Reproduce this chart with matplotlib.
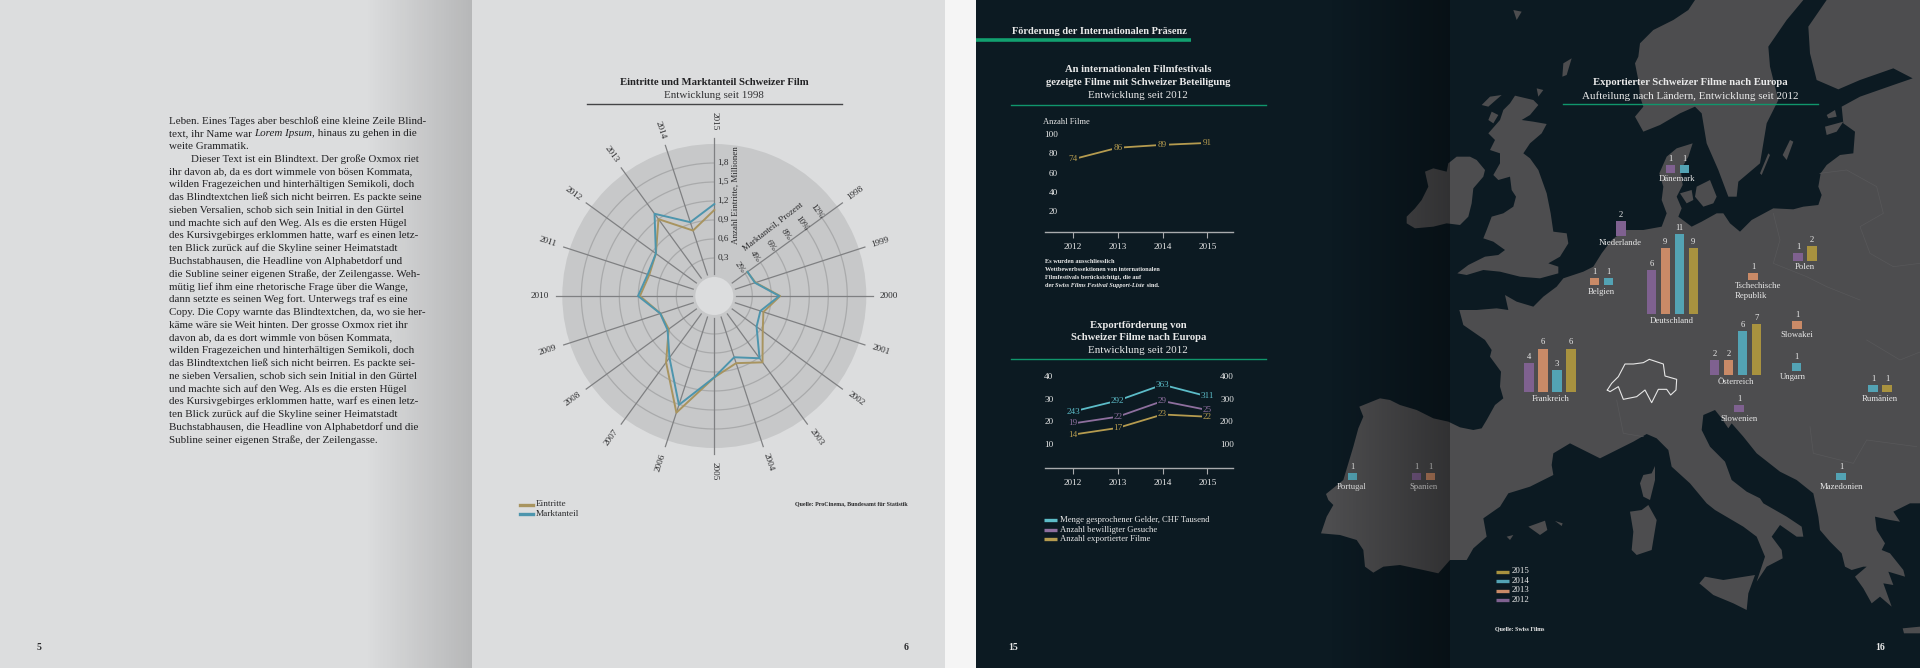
import numpy as np
import matplotlib
matplotlib.use('Agg')
import matplotlib.pyplot as plt

plt.rcParams['font.family'] = ['Liberation Serif', 'DejaVu Serif']

# radar data
years = list(range(1998, 2016))
eintritte = [0.345, 0.385, 0.74, 0.515, 0.645, 0.995, 0.815, 0.985, 1.637, 0.995, 0.59, 0.594, 0.874, 0.78, 0.84, 1.2, 0.787, 1.058]
marktanteil = [2.33, 2.5, 4.84, 3.1, 3.5, 6.1, 4.78, 6.56, 10.05, 6.03, 4.08, 3.97, 6.03, 5.37, 5.6, 8.7, 6.17, 7.68]
eintritte_ticks = [0.3, 0.6, 0.9, 1.2, 1.5, 1.8]
marktanteil_ticks = [2, 4, 6, 8, 10, 12]

# line charts
line_years = [2012, 2013, 2014, 2015]
filme = [74, 86, 89, 91]
filme_ticks = [20, 40, 60, 80, 100]
gelder = [243, 292, 363, 311]
gesuche = [19, 22, 29, 25]
exportiert = [14, 17, 23, 22]
left_ticks = [10, 20, 30, 40]
right_ticks = [100, 200, 300, 400]

# map bars
countries = ['Dänemark', 'Niederlande', 'Belgien', 'Deutschland', 'Polen', 'Tschechische\nRepublik', 'Slowakei',
             'Österreich', 'Ungarn', 'Frankreich', 'Slowenien', 'Rumänien', 'Portugal', 'Spanien', 'Mazedonien']
country_years = [[2012, 2014], [2012], [2013, 2014], [2012, 2013, 2014, 2015], [2012, 2015], [2013], [2013],
                 [2012, 2013, 2014, 2015], [2014], [2012, 2013, 2014, 2015], [2012], [2014, 2015], [2014], [2012, 2013], [2014]]
country_values = [[1, 1], [2], [1, 1], [6, 9, 11, 9], [1, 2], [1], [1],
                  [2, 2, 6, 7], [1], [4, 6, 3, 6], [1], [1, 1], [1], [1, 1], [1]]
# first bar x, baseline y, label x, label y (page pixels)
anchors = [(1670.3, 172.7, 1677, 179), (1621, 236, 1620.7, 242.7), (1594.7, 285, 1601, 291.7),
           (1651.3, 314, 1672, 321), (1798, 260.7, 1804.3, 267), (1753, 280, 1735, 286), (1797, 328.7, 1797, 335.3),
           (1714.7, 375, 1735.7, 382.3), (1796.7, 370.7, 1793.3, 377.3), (1529, 392.3, 1550.3, 399),
           (1739, 412, 1738.7, 419), (1873, 392.3, 1880, 399), (1352.3, 480.3, 1352, 487),
           (1416.3, 480.3, 1423, 487), (1841, 480.3, 1841, 487)]
year_colors = {2012: '#7f6190', 2013: '#c98a67', 2014: '#53a3b4', 2015: '#a8923f'}

body_lines = [
    'Leben. Eines Tages aber beschloß eine kleine Zeile Blind-',
    None,
    'weite Grammatik.',
    '        Dieser Text ist ein Blindtext. Der große Oxmox riet',
    'ihr davon ab, da es dort wimmele von bösen Kommata,',
    'wilden Fragezeichen und hinterhältigen Semikoli, doch',
    'das Blindtextchen ließ sich nicht beirren. Es packte seine',
    'sieben Versalien, schob sich sein Initial in den Gürtel',
    'und machte sich auf den Weg. Als es die ersten Hügel',
    'des Kursivgebirges erklommen hatte, warf es einen letz-',
    'ten Blick zurück auf die Skyline seiner Heimatstadt',
    'Buchstabhausen, die Headline von Alphabetdorf und',
    'die Subline seiner eigenen Straße, der Zeilengasse. Weh-',
    'mütig lief ihm eine rhetorische Frage über die Wange,',
    'dann setzte es seinen Weg fort. Unterwegs traf es eine',
    'Copy. Die Copy warnte das Blindtextchen, da, wo sie her-',
    'käme wäre sie Weit hinten. Der grosse Oxmox riet ihr',
    'davon ab, da es dort wimmle von bösen Kommata,',
    'wilden Fragezeichen und hinterhältigen Semikoli, doch',
    'das Blindtextchen ließ sich nicht beirren. Es packte sei-',
    'ne sieben Versalien, schob sich sein Initial in den Gürtel',
    'und machte sich auf den Weg. Als es die ersten Hügel',
    'des Kursivgebirges erklommen hatte, warf es einen letz-',
    'ten Blick zurück auf die Skyline seiner Heimatstadt',
    'Buchstabhausen, die Headline von Alphabetdorf und die',
    'Subline seiner eigenen Straße, der Zeilengasse.']


def z(points, ox, oy):
    # crop coordinates (3x) to page pixels
    return [(ox + a / 3, oy + b / 3) for a, b in points]


# rough map outlines
continent = (
    z([(63,580),(80,530),(100,495),(85,480),(78,462),(130,420),(160,320),(175,265),(190,230),(178,200),(240,175),(270,180),
       (300,195),(350,210),(400,235),(445,245),(480,262),(520,270),(545,265),(560,240),(585,195),(610,175),(600,140),
       (603,95),(570,50),(575,30),(555,0)], 1300, 340) +
    z([(490,975),(478,930),(530,930),(590,925),(625,930),(615,885),(650,905),(700,920),(730,890),(770,860),(790,835),
       (850,815),(880,800),(905,760),(935,720),(975,690),(1030,690),(1085,680)], 1300, 0) +
    z([(320,640),(305,600),(310,560),(298,520),(320,470),(350,445),(398,430),(385,470),(362,510),(368,555),(350,590),
       (365,625),(355,650),(395,680),(425,665),(470,640),(490,640),(510,670),(540,695),(575,660),(640,625),(700,628),
       (730,620),(775,615),(785,585),(775,560),(782,520),(800,495),(840,465),(880,460),(885,395),(850,370),(845,320),
       (900,290),(1000,255),(1058,235),(1000,205),(900,240),(835,268),(770,240),(750,160),(745,80),(800,0),(1080,0)], 1560, 0) +
    z([(960,0),(960,490),(930,490),(880,515),(900,545),(870,540),(825,530),(830,570),(855,610),(845,630),(870,640),(910,690),
       (915,710),(865,695),(880,735),(850,730),(875,800),(840,770),(815,790),(790,745),(765,710),(800,680),(840,680),
       (790,680),(755,690),(735,680),(725,640),(690,605),(660,570),(655,530),(640,460),(590,420),(540,395),(470,340),
       (430,290),(395,250),(385,265),(365,235),(345,210),(310,225),(305,270),(330,320),(375,365),(395,420),(440,455),
       (480,475),(490,490),(560,530),(605,560),(610,590),(590,590),(540,555),(515,590),(545,630),(548,655),(500,680),
       (470,725),(495,650),(470,590),(430,560),(345,510),(320,490),(270,430),(215,380),(205,330),(170,295),(140,282),
       (100,305),(60,325),(0,355)], 1600, 340) +
    z([(860,335),(810,310),(760,340),(755,375),(760,405),(690,440),(625,460),(600,500),(550,535),(560,590),(520,625),
       (500,660),(450,660),(415,700),(370,690),(300,675),(250,680),(220,698),(195,680),(190,630),(170,600),(120,585)], 1300, 340))
scandinavia = z([(405,320),(425,340),(440,430),(475,510),(505,590),(530,590),(535,545),(600,490),(620,370),(655,300),
                 (630,200),(625,140),(680,60),(730,0),(405,0),(385,30),(340,60),(280,90),(240,130),(235,170),(225,190),
                 (235,240),(240,290),(250,320),(225,350),(250,395),(300,375),(360,340)], 1560, 0)
britain = z([(645,287),(700,300),(715,315),(690,345),(665,360),(700,365),(740,372),(725,400),(690,430),(670,460),(690,475),
             (715,510),(740,580),(752,640),(760,695),(800,700),(805,730),(780,770),(745,790),(775,800),(775,820),(720,835),
             (660,830),(600,815),(550,810),(500,825),(472,820),(505,795),(555,770),(595,765),(615,750),(580,725),(550,715),
             (560,690),(575,650),(610,640),(640,620),(648,590),(635,570),(630,530),(595,540),(580,525),(600,490),(600,460),
             (570,450),(585,420),(565,400),(600,360),(610,330),(630,310)], 1300, 0)
ireland = z([(320,650),(345,625),(365,600),(385,560),(375,515),(400,505),(440,515),(445,490),(470,470),(510,470),(530,480),
             (555,510),(550,530),(520,565),(515,610),(505,650),(480,675),(440,670),(400,680),(345,685),(320,670)], 1300, 0)
islands = [
    z([(165,378),(165,420),(150,480),(130,470),(120,430),(130,405),(155,400)], 1600, 340),
    z([(145,495),(170,540),(155,630),(110,645),(95,630),(100,575),(90,515),(125,510)], 1600, 340),
    z([(298,730),(315,710),(370,720),(465,705),(445,760),(440,810),(400,790),(340,765)], 1600, 340),
    z([(908,865),(960,860),(960,880),(912,880)], 1600, 340),
    z([(685,560),(735,542),(742,570),(720,585)], 1300, 340),
    z([(765,543),(788,550),(785,558)], 1300, 340),
    z([(620,590),(640,585),(630,600)], 1300, 340),
    z([(410,560),(450,540),(470,590),(460,610),(430,620),(405,590)], 1560, 0),
    z([(360,580),(395,570),(400,600),(380,610)], 1560, 0),
    z([(690,420),(700,425),(680,480),(668,465)], 1560, 0),
    z([(625,460),(630,465),(605,525),(600,520)], 1560, 0),
    z([(795,380),(850,365),(830,395),(800,405)], 1560, 0),
    z([(800,345),(825,330),(830,350),(805,355)], 1560, 0),
    z([(790,190),(815,175),(800,225),(787,230)], 1300, 0),
    z([(710,265),(730,270),(715,290)], 1300, 0),
    z([(640,30),(665,35),(650,60)], 1300, 0),
    z([(570,290),(605,285),(565,320),(545,315)], 1300, 0),
    z([(575,335),(595,345),(580,370),(565,360)], 1300, 0)]
borders = [
    z([(780,520),(860,510),(950,560),(970,640),(900,680),(930,760),(1000,800),(1080,790)], 1560, 0),
    z([(640,640),(660,720),(640,790),(740,830),(800,860),(900,900)], 1560, 0),
    z([(800,0),(900,60),(1000,20),(1080,100)], 1600, 340),
    z([(630,260),(640,340),(760,370),(800,300),(950,320)], 1600, 340),
    z([(50,180),(70,280),(130,290)], 1600, 340)]
schweiz = z([(22,150),(35,130),(55,110),(75,72),(100,72),(130,68),(148,58),(190,72),(195,108),(230,118),(228,150),
             (212,165),(200,148),(175,148),(155,188),(135,150),(110,170),(70,178),(55,140),(30,155)], 1600, 340)

W, H = 1920, 668
fig = plt.figure(figsize=(W / 100, H / 100), dpi=100)
DARK = '#0c1a22'
LAND = '#4d4d4f'
GREEN = '#10966c'
LIGHT = '#e9e9e9'
INK = '#2b2b2d'
GOLD = '#b59b4f'
CYAN = '#5cbcc8'
PURPLE = '#8e6f9e'
BOLD_SIZE = 7.7
SUB_SIZE = 7.9


def page_axes(z_order):
    a = fig.add_axes([0, 0, 1, 1], zorder=z_order)
    a.set_xlim(0, W)
    a.set_ylim(H, 0)
    a.axis('off')
    a.patch.set_alpha(0)
    return a


bg = page_axes(0)
bg.fill_between([0, 945], 0, H, color='#dcddde', lw=0)
bg.fill_between([945, 976], 0, H, color='#f5f5f5', lw=0)
bg.fill_between([976, W], 0, H, color=DARK, lw=0)
for shape in [continent, scandinavia, britain, ireland] + islands:
    xs, ys = zip(*shape)
    bg.fill(xs, ys, color=LAND, lw=0)
for b in borders:
    xs, ys = zip(*b)
    bg.plot(xs, ys, color='#58585a', lw=0.5)
xs, ys = zip(*(schweiz + schweiz[:1]))
bg.plot(xs, ys, color='#e6e6e6', lw=0.8)

# radar
cx, cy, R = 714.3, 296, 152
rad = fig.add_axes([(cx - R) / W, 1 - (cy + R) / H, 2 * R / W, 2 * R / H], projection='polar', zorder=1)
rad.set_theta_zero_location('N')
rad.set_theta_direction(-1)
rad.set_rorigin(-0.3)
rad.set_rlim(0, 2.1)
rad.set_facecolor('#c7c8c9')
rad.grid(False)
rad.set_xticks([])
rad.set_yticks([])
rad.spines['polar'].set_visible(False)
rad.spines['inner'].set_linewidth(0)
rad.spines['inner'].set_edgecolor('none')
angles = [np.deg2rad(54 + 18 * i) for i in range(len(years))]
arc = np.linspace(angles[0], angles[-1], 200)
for v in eintritte_ticks:
    rad.plot(arc, [v] * len(arc), color='#a9aaab', lw=0.9)
for a, y in zip(angles, years):
    rad.plot([a, a], [0.05, 2.2], color='#7f8082', lw=0.9, clip_on=False)
    deg = np.rad2deg(a)
    rot = 90 - deg if deg <= 180 else 270 - deg
    rad.text(a, 2.46, str(y), rotation=rot, rotation_mode='anchor', ha='center', va='center',
             fontsize=6.6, color=INK, clip_on=False)
r_markt = [m * 0.15 for m in marktanteil]
rad.plot(angles, eintritte, color='#a8945f', lw=1.4)
rad.plot(angles, r_markt, color='#4d95ad', lw=1.4)
for v in eintritte_ticks:
    rad.annotate(f'{v:.1f}'.replace('.', ','), xy=(0, v), xytext=(2.2, 0), textcoords='offset points',
                 va='center', ha='left', fontsize=6.6, color=INK)
for m in marktanteil_ticks:
    rad.annotate(f'{m}%', xy=(angles[0], m * 0.15), xytext=(-3.6, 4.3), textcoords='offset points', va='center',
                 ha='center', rotation=-54, rotation_mode='anchor', fontsize=6.5, color=INK)

top = page_axes(5)


def txt(x, y, s, size=7.5, color=INK, ha='left', weight='normal', style='normal', rot=0, **kw):
    return top.text(x, y, s, fontsize=size, color=color, ha=ha, va='center', fontweight=weight, fontstyle=style,
                    rotation=rot, rotation_mode='anchor', **kw)


def pieces(x, y, parts, size, color, weight='normal'):
    # one line with roman and italic runs
    rend = fig.canvas.get_renderer()
    for s, st in parts:
        t = txt(x, y, s, size, color, weight=weight, style=st)
        x += t.get_window_extent(rend).width


# left spread
fs_body = 7.9
for i, line in enumerate(body_lines):
    y = 120.7 + 12.77 * i
    if line is None:
        pieces(169, y, [('text, ihr Name war ', 'normal'), ('Lorem Ipsum,', 'italic'), (' hinaus zu gehen in die', 'normal')], fs_body, '#222224')
    else:
        txt(169, y, line, fs_body, '#222224')
txt(714, 82.7, 'Eintritte und Marktanteil Schweizer Film', BOLD_SIZE, '#222224', 'center', 'bold')
txt(714, 95.7, 'Entwicklung seit 1998', SUB_SIZE, '#333335', 'center')
top.plot([586.7, 841.7], [104.3, 104.3], color='#444446', lw=1)
txt(736, 195, 'Anzahl Eintritte, Millionen', 6.5, INK, 'center', rot=90)
txt(773.3, 226.7, 'Marktanteil, Prozent', 6.4, INK, 'center', rot=38)
top.plot([520, 532.7], [505, 505], color='#a8945f', lw=2.4)
top.plot([520, 532.7], [514.3, 514.3], color='#4d95ad', lw=2.4)
txt(535.7, 504.5, 'Eintritte', 6.7)
txt(535.7, 514, 'Marktanteil', 6.7)
txt(795.3, 503.3, 'Quelle: ProCinema, Bundesamt für Statistik', 4.3, INK, weight='bold')
txt(36.7, 648, '5', 7, weight='bold')
txt(906, 648, '6', 7, ha='center', weight='bold')

# dark spread text
txt(1012, 31.7, 'Förderung der Internationalen Präsenz', 7.5, LIGHT, weight='bold')
top.plot([976, 1190.7], [39.7, 39.7], color='#12a06f', lw=2.6, solid_capstyle='butt')
for y, s, w in [(69.3, 'An internationalen Filmfestivals', 'bold'), (82.7, 'gezeigte Filme mit Schweizer Beteiligung', 'bold'),
                (95.7, 'Entwicklung seit 2012', 'normal'), (325.3, 'Exportförderung von', 'bold'),
                (338, 'Schweizer Filme nach Europa', 'bold'), (350.7, 'Entwicklung seit 2012', 'normal')]:
    txt(1138.3, y, s, BOLD_SIZE if w == 'bold' else SUB_SIZE, LIGHT, 'center', w)
top.plot([1011, 1266], [104.7, 104.7], color=GREEN, lw=1)
top.plot([1011, 1266], [359.3, 359.3], color=GREEN, lw=1)
txt(1043.3, 121.7, 'Anzahl Filme', 6.1, LIGHT)
note_y = [261.7, 269.3, 277.3, 285.3]
for y, line in zip(note_y[:3], ['Es wurden ausschliesslich', 'Wettbewerbssektionen von internationalen', 'Filmfestivals berücksichtigt, die auf']):
    txt(1044.7, y, line, 4.5, LIGHT, weight='bold')
pieces(1044.7, note_y[3], [('der ', 'normal'), ('Swiss Films Festival Support-Liste', 'italic'), (' sind.', 'normal')], 4.5, LIGHT, 'bold')
for y, c, s in [(520.3, CYAN, 'Menge gesprochener Gelder, CHF Tausend'), (530, PURPLE, 'Anzahl bewilligter Gesuche'), (539.3, GOLD, 'Anzahl exportierter Filme')]:
    top.plot([1044.3, 1057.3], [y, y], color=c, lw=2.4, solid_capstyle='butt')
    txt(1060.3, y - 0.5, s, 6.2, LIGHT)
txt(1013, 648, '15', 7, LIGHT, 'center', 'bold')
txt(1880, 647.3, '16', 7, LIGHT, 'center', 'bold')


def line_axes(base_y, top_y, vmin, vmax):
    a = fig.add_axes([1045 / W, 1 - base_y / H, (1232.7 - 1045) / W, (base_y - top_y) / H], zorder=2)
    a.patch.set_alpha(0)
    a.set_ylim(vmin, vmax)
    # tick spacing of the reference: 2012 at 1073, 2015 at 1207.3
    a.set_xlim(2012 - 28 / 44.77, 2015 + 25.4 / 44.77)
    for s in ['top', 'left', 'right']:
        a.spines[s].set_visible(False)
    a.spines['bottom'].set_color('#a9abad')
    a.spines['bottom'].set_linewidth(1)
    a.set_xticks(line_years)
    a.tick_params(axis='x', colors=LIGHT, length=4.5, width=0.8, color='#a9abad', labelsize=6.6, pad=3)
    return a


def label_line(a, vals, color, pad=1.2):
    a.plot(line_years, vals, color=color, lw=1.3)
    for xv, yv in zip(line_years, vals):
        a.text(xv, yv, str(yv), color=color, fontsize=6.6, ha='center', va='center',
               bbox=dict(fc=DARK, ec='none', pad=pad))


# filme: 20 per 19.2 px, zero at y=230.3
f_ax = line_axes(232.3, 120, -2.1, (230.3 - 120) / 0.96)
f_ax.set_yticks(filme_ticks)
f_ax.tick_params(axis='y', length=0, labelsize=6.6, labelcolor=LIGHT, pad=-9.1)
label_line(f_ax, filme, GOLD)

# export: 10 per 22.4 px, zero at y=466
e_ax = line_axes(468.3, 370, -1.03, (466 - 370) / 2.24)
e_ax.set_yticks(left_ticks)
e_ax.tick_params(axis='y', length=0, labelsize=6.6, labelcolor=LIGHT, pad=-6)
e2 = e_ax.twinx()
e2.patch.set_alpha(0)
e2.set_ylim(-10.3, (466 - 370) / 0.224)
for s in e2.spines.values():
    s.set_visible(False)
e2.set_yticks(right_ticks)
e2.tick_params(axis='y', length=0, labelsize=6.6, labelcolor=LIGHT, pad=-9.1)
label_line(e_ax, gesuche, PURPLE, 0.4)
label_line(e_ax, exportiert, GOLD, 0.4)
label_line(e2, gelder, CYAN, 0.6)

# map overlay
txt(1690, 82.7, 'Exportierter Schweizer Filme nach Europa', BOLD_SIZE, LIGHT, 'center', 'bold')
txt(1690, 95.7, 'Aufteilung nach Ländern, Entwicklung seit 2012', SUB_SIZE, LIGHT, 'center')
top.plot([1562.7, 1817.7], [104.3, 104.3], color=GREEN, lw=1)
UNIT = 7.3
for name, ys_, vals, (bx, base, lx, ly) in zip(countries, country_years, country_values, anchors):
    xs = [bx + 14 * i for i in range(len(vals))]
    top.bar(xs, [-v * UNIT for v in vals], bottom=base, width=9.3, color=[year_colors[y] for y in ys_], lw=0)
    for xb, v in zip(xs, vals):
        txt(xb, base - v * UNIT - 6, str(v), 6.2, LIGHT, 'center')
    if '\n' in name:
        for j, part in enumerate(name.split('\n')):
            txt(lx, ly + j * 9.5, part, 6.3, LIGHT)
    else:
        txt(lx, ly, name, 6.3, LIGHT, 'center')
for y, yr in zip([571.7, 581.3, 590.7, 600.3], [2015, 2014, 2013, 2012]):
    top.plot([1495.7, 1508.7], [y, y], color=year_colors[yr], lw=2.4, solid_capstyle='butt')
    txt(1511.3, y - 0.4, str(yr), 6.4, LIGHT)
txt(1495.3, 629.3, 'Quelle: Swiss Films', 4.35, LIGHT, weight='bold')

# page fold shadows
for x0, x1, a_max in [(365, 472, 0.17), (1330, 1450, 0.36)]:
    grad = np.zeros((1, 128, 4))
    grad[0, :, 3] = np.linspace(0, a_max, 128)
    top.imshow(grad, extent=(x0, x1, H, 0), aspect='auto', zorder=10)
top.set_xlim(0, W)
top.set_ylim(H, 0)

fig.savefig('out.png', dpi=100)
